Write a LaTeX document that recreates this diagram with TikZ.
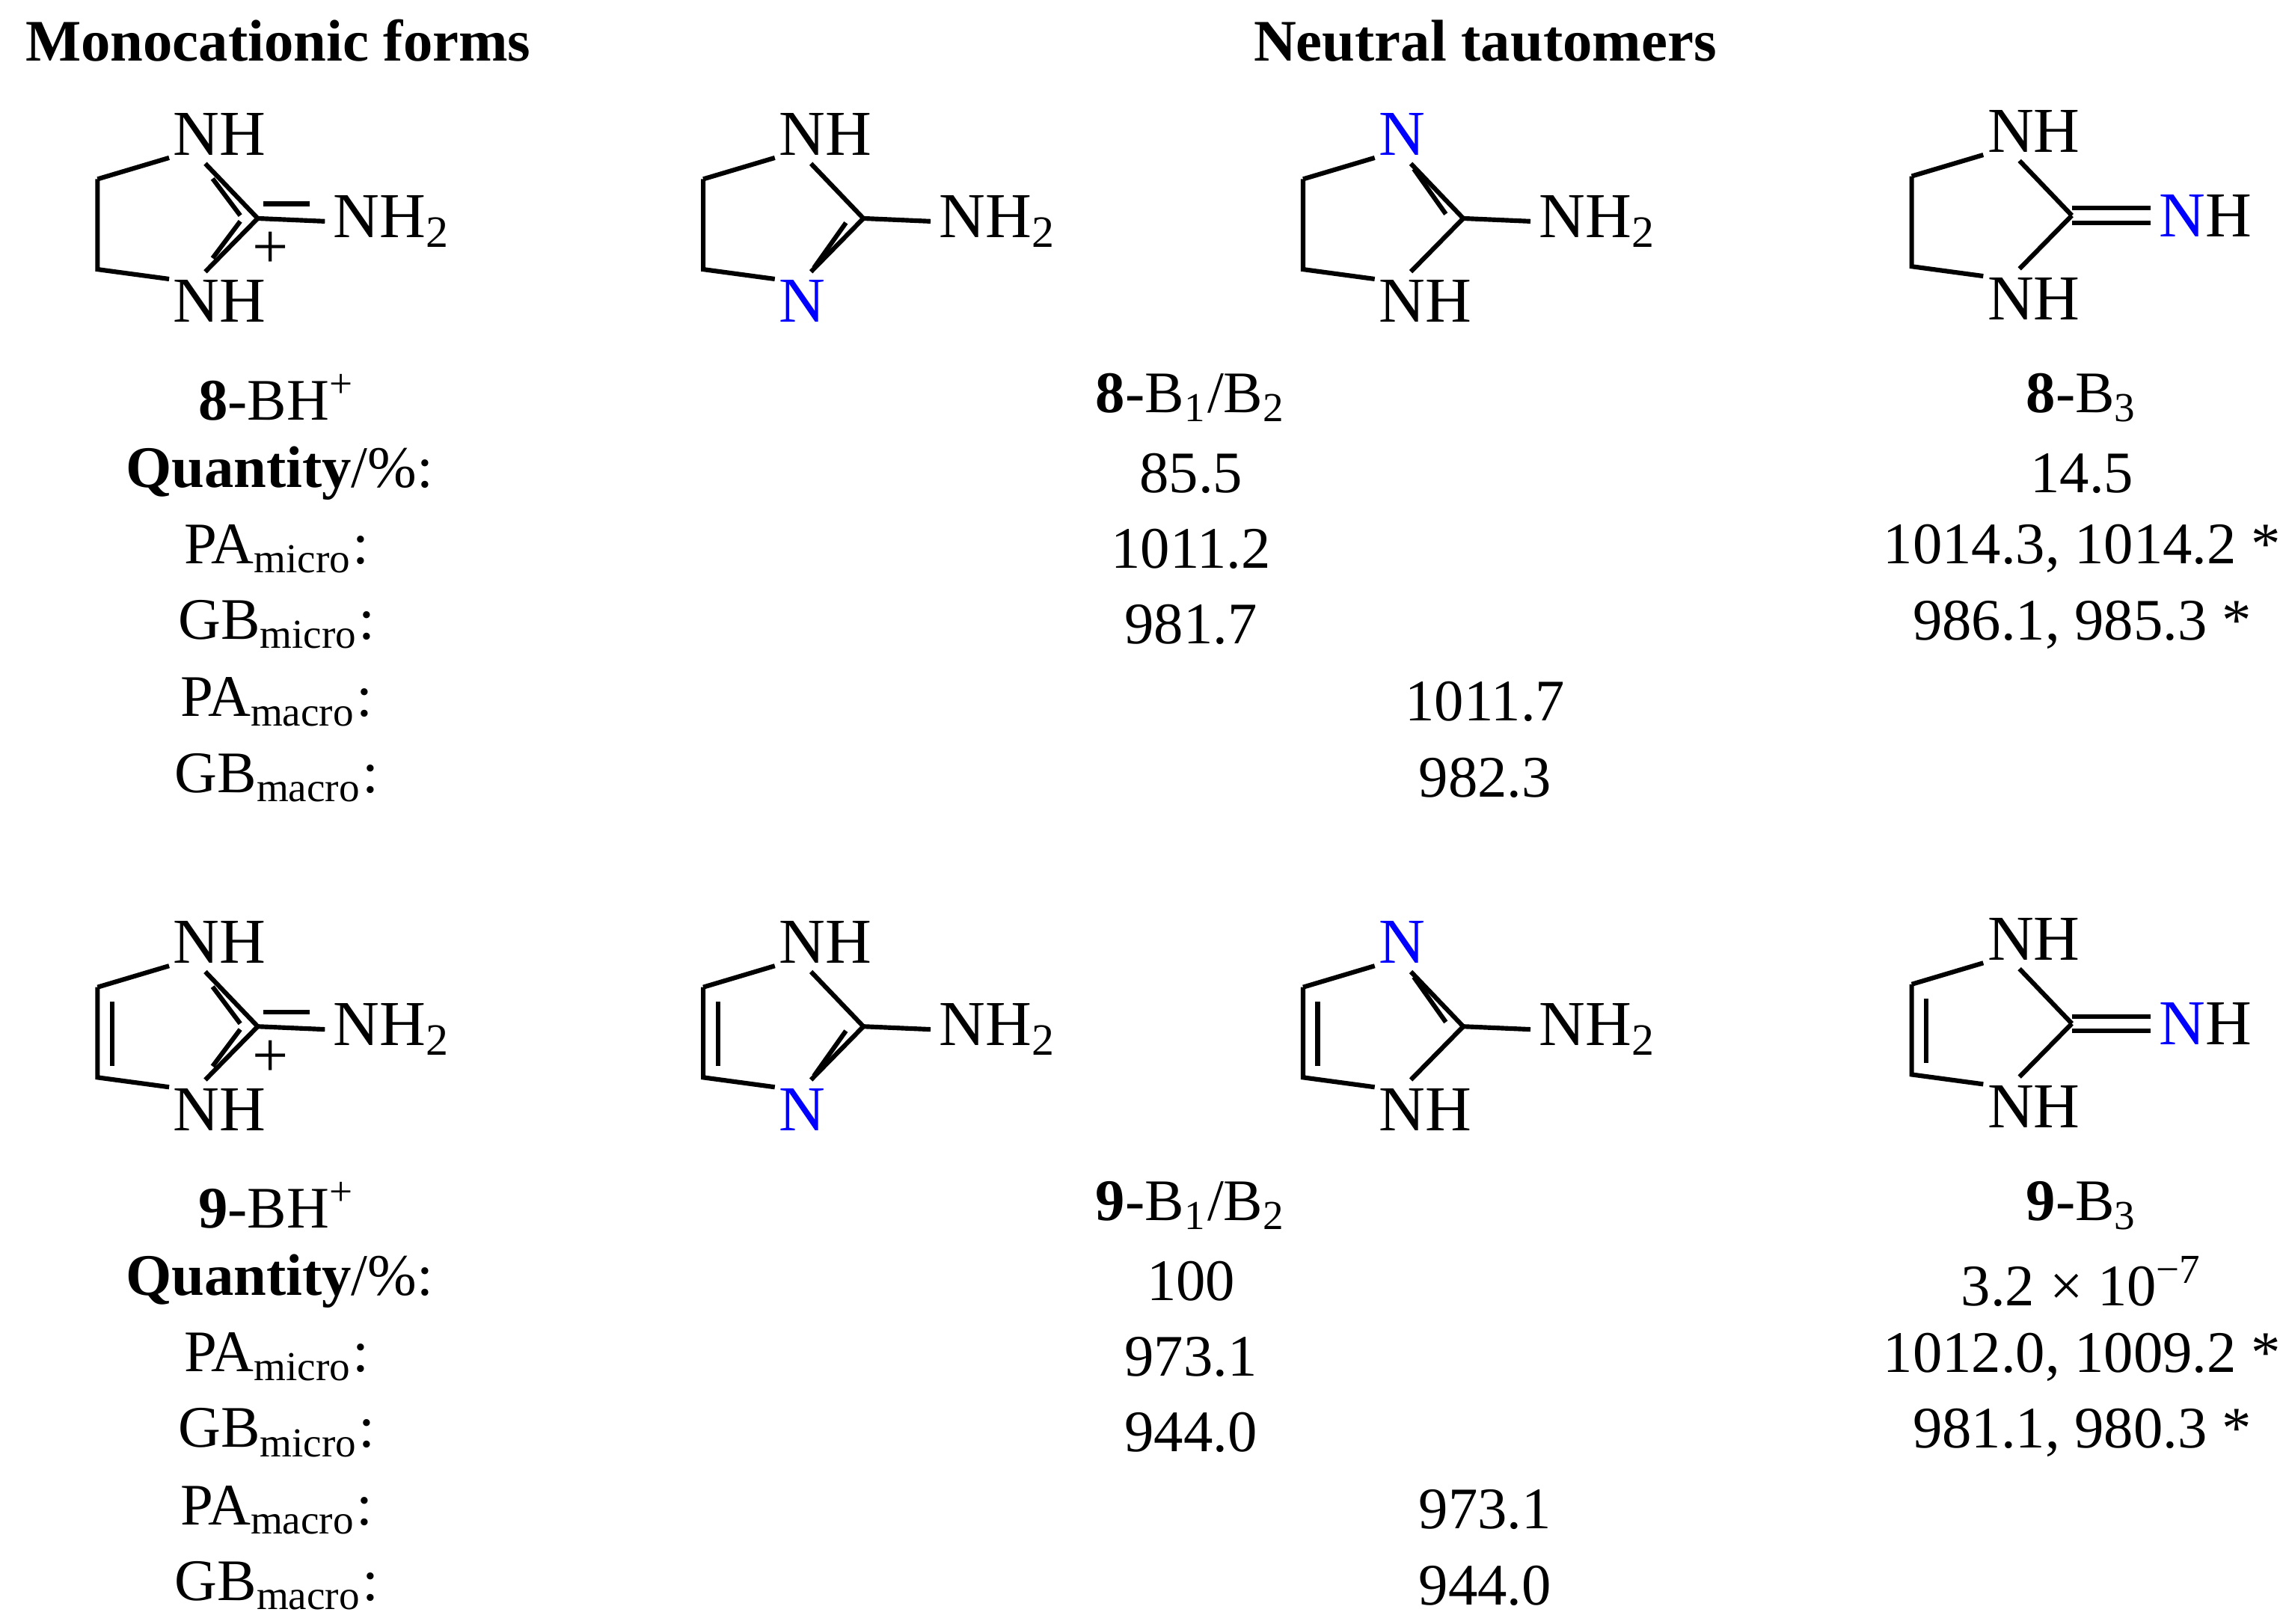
\documentclass[tikz,border=0pt]{standalone}
\usepackage{fontspec}
\setmainfont{Liberation Serif}
\begin{document}
\begin{tikzpicture}[x=0.01cm,y=-0.01cm,
  bond/.style={line width=0.9pt},
  dbond/.style={line width=0.9pt,dash pattern=on 9pt off 5pt},
  atom/.style={inner sep=1.5pt,font=\fontsize{12.5}{14}\selectfont},
  bl/.style={text=blue},
  txt/.style={font=\fontsize{11.5}{13}\selectfont,inner sep=0pt},
  hdr/.style={font=\fontsize{11.5}{13}\selectfont\bfseries,inner sep=0pt}]
\useasboundingbox (0,0) rectangle (1568,1115);
\fill[white] (0,0) rectangle (1568,1115);
% headers
\node[hdr] (h1) at (191,28) {Monocationic forms};
\node[hdr] (h2) at (1020,28) {Neutral tautomers};
% ring generic pieces
\newcommand{\ringsat}[3]{% #1 top atom text, #2 bottom atom text, #3 unsat flag
  \node[atom] (nt) at (-42,-58) {#1};
  \node[atom] (nb) at (-42,57) {#2};
  \coordinate (c) at (0,0);
  \coordinate (ca) at (-110,-27);
  \coordinate (cb) at (-110,35);
  \draw[bond,line join=round] (nt.south west) ++(3,-4) coordinate (x1) (ca) -- (x1);
  \draw[bond] (ca) -- (cb) -- ($(nb.north west)+(3,5)$);
  \ifnum#3=1 \draw[bond] (-100,-17) -- (-100,27); \fi
  \draw[bond] (c) -- ($(nt.south)+(6,0)$);
  \draw[bond] (c) -- ($(nb.north)+(6,0)$);
}
\usetikzlibrary{calc}
% ---------- rows ----------
\foreach \dy/\un/\num in {0/0/8,555/1/9}{
\begin{scope}[yshift=-\dy*0.01cm]
 % cation
 \begin{scope}[shift={(177,150)}]
  \ringsat{N\rlap{H}}{N\rlap{H}}{\un}
  \draw[dbond] (-12,-2) -- (-36,-34);
  \draw[dbond] (-12,2) -- (-36,34);
  \node[atom] (ex) at (68,2) {N\rlap{H\textsubscript{2}}};
  \draw[bond] (c) -- (ex.west);
  \draw[dbond] (4,-10) -- ($(ex.west)+(0,-12)$);
  \node[atom] (plus) at (9,22) {+};
 \end{scope}
 % B1
 \begin{scope}[shift={(593,150)}]
  \ringsat{N\rlap{H}}{\textcolor{blue}{N}}{\un}
  \draw[bond] (-12,3) -- (-34,34);
  \node[atom] (ex) at (68,2) {N\rlap{H\textsubscript{2}}};
  \draw[bond] (c) -- (ex.west);
 \end{scope}
 % B2
 \begin{scope}[shift={(1005,150)}]
  \ringsat{\textcolor{blue}{N}}{N\rlap{H}}{\un}
  \draw[bond] (-12,-3) -- (-34,-34);
  \node[atom] (ex) at (68,2) {N\rlap{H\textsubscript{2}}};
  \draw[bond] (c) -- (ex.west);
 \end{scope}
 % B3
 \begin{scope}[shift={(1423,148)}]
  \ringsat{N\rlap{H}}{N\rlap{H}}{\un}
  \node[atom] (ex) at (76,0) {\textcolor{blue}{N}\rlap{H}};
  \draw[bond] (0,-5) -- ($(ex.west)+(0,-5)$);
  \draw[bond] (0,5) -- ($(ex.west)+(0,5)$);
 \end{scope}
\end{scope}}
% ---------- tables ----------
\foreach \dy/\num/\q/\pa/\gb/\qb/\pab/\gbb/\pam/\gbm in
 {0/8/85.5/1011.2/981.7/14.5/{1014.3, 1014.2 *}/{986.1, 985.3 *}/1011.7/982.3,
  555/9/100/973.1/944.0/{3.2 × 10\textsuperscript{−7}}/{1012.0, 1009.2 *}/{981.1, 980.3 *}/973.1/944.0}{
\begin{scope}[yshift=-\dy*0.01cm]
 \node[txt] (l0) at (190,273) {\textbf{\num}-BH\textsuperscript{+}};
 \node[txt] (l1) at (192,325) {\textbf{Quantity}/\%:};
 \node[txt] (l2) at (190,377) {PA\textsubscript{micro}:};
 \node[txt] (l3) at (190,429) {GB\textsubscript{micro}:};
 \node[txt] (l4) at (190,482) {PA\textsubscript{macro}:};
 \node[txt] (l5) at (190,534) {GB\textsubscript{macro}:};
 \node[txt] (a0) at (818,273) {\textbf{\num}-B\textsubscript{1}/B\textsubscript{2}};
 \node[txt] (a1) at (818,325) {\q};
 \node[txt] (a2) at (818,377) {\pa};
 \node[txt] (a3) at (818,429) {\gb};
 \node[txt] (b0) at (1430,273) {\textbf{\num}-B\textsubscript{3}};
 \node[txt] (b1) at (1430,325) {\qb};
 \node[txt] (b2) at (1430,377) {\pab};
 \node[txt] (b3) at (1430,429) {\gbb};
 \node[txt] (m4) at (1020,482) {\pam};
 \node[txt] (m5) at (1020,534) {\gbm};
\end{scope}}
\end{tikzpicture}
\end{document}
